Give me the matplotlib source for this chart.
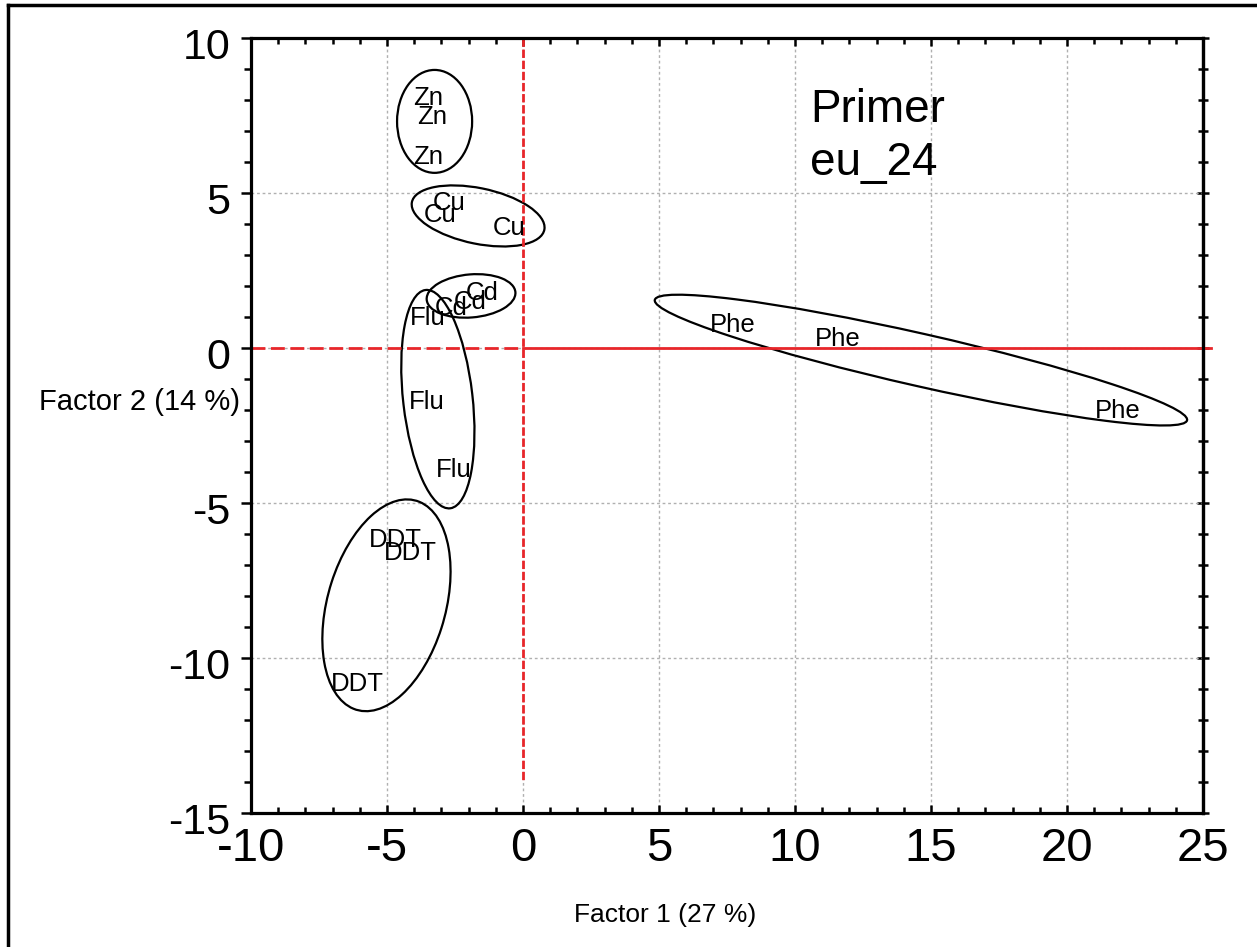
import matplotlib
matplotlib.use("Agg")
import matplotlib.pyplot as plt
from matplotlib.patches import Ellipse
from matplotlib.ticker import MultipleLocator
import matplotlib.transforms as mtransforms

plt.rcParams["font.family"] = ["Liberation Sans", "DejaVu Sans"]
plt.rcParams["axes.unicode_minus"] = False

# point labels (factor 1, factor 2)
labels = ["Zn", "Zn", "Zn",
          "Cu", "Cu", "Cu",
          "Cd", "Cd", "Cd",
          "Flu", "Flu", "Flu",
          "DDT", "DDT", "DDT",
          "Phe", "Phe", "Phe"]
f1 = [-3.49, -3.35, -3.49,
      -2.72, -3.05, -0.51,
      -1.51, -1.95, -2.65,
      -3.49, -3.53, -2.54,
      -4.71, -4.15, -6.10,
      7.72, 11.58, 21.88]
f2 = [8.06, 7.45, 6.16,
      4.68, 4.29, 3.87,
      1.77, 1.48, 1.29,
      0.97, -1.74, -3.94,
      -6.19, -6.61, -10.84,
      0.74, 0.29, -2.03]

# group ellipses: center x, center y, width, height, angle
ell_cx = [-3.25, -1.65, -1.91, -3.13, -5.02, 14.63]
ell_cy = [7.31, 4.26, 1.68, -1.65, -8.3, -0.39]
ell_w = [2.76, 4.95, 3.27, 2.55, 4.3, 19.95]
ell_h = [3.32, 1.8, 1.39, 7.1, 7.1, 1.7]
ell_ang = [0, -10, 4, 7.5, -20, -11.2]

xticks = [-10, -5, 0, 5, 10, 15, 20, 25]
yticks = [-15, -10, -5, 0, 5, 10]

fig = plt.figure(figsize=(12.57, 9.47), dpi=100)
ax = fig.add_axes([251 / 1257, 1 - 813 / 947, (1203 - 251) / 1257, (813 - 38) / 947])

ax.set_xlim(-10, 25)
ax.set_ylim(-15, 10)
ax.set_xticks(xticks)
ax.set_yticks(yticks)
ax.xaxis.set_minor_locator(MultipleLocator(1))
ax.yaxis.set_minor_locator(MultipleLocator(1))

ax.grid(True, which="major", color="#b0b0b0", linestyle=(0, (2, 2)), linewidth=1)
ax.set_axisbelow(True)

for s in ax.spines.values():
    s.set_linewidth(2.3)

ax.tick_params(axis="x", which="both", direction="in", top=True, width=1.8)
ax.tick_params(axis="x", which="major", length=6, pad=10, labelsize=34)
ax.tick_params(axis="x", which="minor", length=4)
ax.tick_params(axis="y", which="both", direction="out", width=1.8)
ax.tick_params(axis="y", which="major", length=7, pad=8, labelsize=31)
ax.tick_params(axis="y", which="minor", length=5)

shift = mtransforms.ScaledTranslation(0, -5 / 100, fig.dpi_scale_trans)
for lab in ax.get_yticklabels():
    lab.set_transform(lab.get_transform() + shift)

sec = ax.secondary_yaxis("right")
sec.set_yticks(yticks)
sec.yaxis.set_minor_locator(MultipleLocator(1))
sec.tick_params(which="both", direction="inout", width=1.8, labelright=False)
sec.tick_params(which="major", length=9)
sec.tick_params(which="minor", length=7)
sec.spines["right"].set_linewidth(2.3)

# reference lines
red = "#e8262a"
ax.plot([-10, 0], [0, 0], color=red, lw=2, linestyle=(0, (5, 2)))
ax.plot([0, 25.3], [0, 0], color=red, lw=2, clip_on=False)
ax.plot([0, 0], [10, -14], color=red, lw=2, linestyle=(0, (3, 1)))

for cx, cy, w, h, a in zip(ell_cx, ell_cy, ell_w, ell_h, ell_ang):
    ax.add_patch(Ellipse((cx, cy), w, h, angle=a, fill=False, edgecolor="black", lw=1.6))

for t, x, y in zip(labels, f1, f2):
    ax.text(x, y, t, fontsize=18.5, ha="center", va="center")

ax.text(10.55, 7.3, "Primer", fontsize=33)
ax.text(10.55, 5.58, "eu_24", fontsize=33)

ax.text(-11 / 952, -1.75, "Factor 2 (14 %)", fontsize=21, ha="right", va="center",
        transform=ax.get_yaxis_transform())
fig.text(665 / 1257, 1 - 915 / 947, "Factor 1 (27 %)", fontsize=19, ha="center", va="center")

# outer frame (left and top only)
fig.add_artist(plt.Line2D([8 / 1257, 8 / 1257], [0, 1 - 5 / 947], color="black", lw=2.5,
                          transform=fig.transFigure))
fig.add_artist(plt.Line2D([8 / 1257, 1], [1 - 5 / 947, 1 - 5 / 947], color="black", lw=2.5,
                          transform=fig.transFigure))

fig.savefig("out.png", dpi=100)
